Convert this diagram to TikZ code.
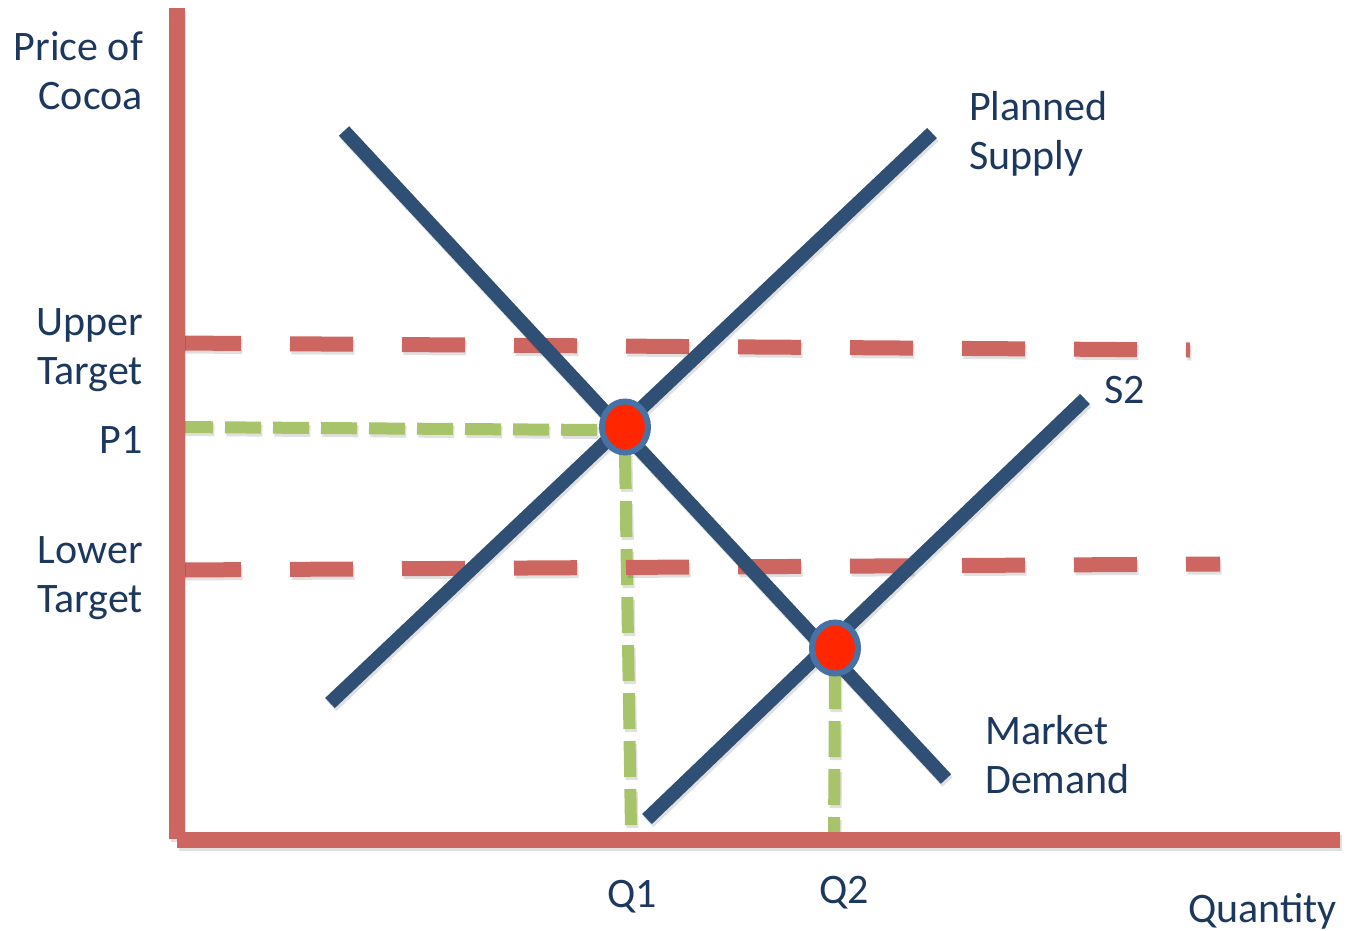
\documentclass[tikz,border=0pt]{standalone}
\usepackage{fontspec}
\setmainfont{Carlito}
\usetikzlibrary{shapes.geometric}
\definecolor{axisred}{RGB}{205,101,96}
\definecolor{navy}{RGB}{47,80,116}
\definecolor{txt}{RGB}{28,56,94}
\definecolor{lgreen}{RGB}{168,196,106}
\definecolor{dotred}{RGB}{255,38,0}
\definecolor{dotrim}{RGB}{70,114,165}
\begin{document}
\begin{tikzpicture}[x=1pt,y=-1pt,
  shadowof/.style={preaction={#1,draw=black,opacity=0.12,transform canvas={shift={(1.5pt,-3pt)}}}},
  axisgeom/.style={line width=15.5pt},
  curvegeom/.style={line width=14pt},
  targetgeom/.style={line width=15pt,dash pattern=on 63pt off 49pt},
  guidegeom/.style={line width=12pt,dash pattern=on 36pt off 12pt},
  axisline/.style={axisgeom,draw=axisred,shadowof=axisgeom},
  curve/.style={curvegeom,draw=navy,shadowof=curvegeom},
  target/.style={targetgeom,draw=axisred,shadowof=targetgeom},
  guide/.style={guidegeom,draw=lgreen,shadowof=guidegeom},
  eqdot/.style={ellipse,draw=dotrim,line width=6pt,fill=dotred,minimum width=46pt,minimum height=51pt,inner sep=0pt},
  lbl/.style={text=txt,inner sep=0pt,font=\fontsize{42}{49}\selectfont}]
\useasboundingbox (0,0) rectangle (1351,930);

% coordinates
\coordinate (ytop) at (177,8);
\coordinate (origin) at (177,840);
\coordinate (ybot) at (177,839);
\coordinate (xend) at (1340,840);
\coordinate (ut1) at (178,343);
\coordinate (ut2) at (1190,350);
\coordinate (lt1) at (178,570);
\coordinate (lt2) at (1220,564);
\coordinate (p1a) at (177,427);
\coordinate (p1b) at (600,430);
\coordinate (q1a) at (625,453);
\coordinate (q1b) at (631,830);
\coordinate (q2a) at (835,673);
\coordinate (q2b) at (834,838);
\coordinate (d1) at (344,131);
\coordinate (d2) at (946,779);
\coordinate (s1) at (330,703);
\coordinate (s2) at (932,133);
\coordinate (t1) at (647,819);
\coordinate (t2) at (1085,399);

% guide lines
\draw[guide] (p1a) -- (p1b);
\draw[guide] (q1a) -- (q1b);
\draw[guide] (q2a) -- (q2b);

% target lines
\draw[target] (ut1) -- (ut2);
\draw[target] (lt1) -- (lt2);

% curves
\draw[curve] (d1) -- (d2);
\draw[curve] (s1) -- (s2);
\draw[curve] (t1) -- (t2);

% equilibrium dots
\node[eqdot] (e1) at (625,427) {};
\node[eqdot] (e2) at (835,648) {};

% axes
\draw[axisline] (ytop) -- (ybot);
\draw[axisline] (origin) -- (xend);

% labels (base anchor = baseline of last line)
\node[lbl,anchor=base east,align=right] (price) at (143,109) {Price of\\Cocoa};
\node[lbl,anchor=base east,align=right] (upper) at (143,384) {Upper\\Target};
\node[lbl,anchor=base east] (p1) at (143,453) {P1};
\node[lbl,anchor=base east,align=right] (lower) at (143,612) {Lower\\Target};
\node[lbl,anchor=base west,align=left] (planned) at (969,169) {Planned\\Supply};
\node[lbl,anchor=base west] (s2lbl) at (1104,403) {S2};
\node[lbl,anchor=base west,align=left] (market) at (985,793) {Market\\Demand};
\node[lbl,anchor=base] (q1) at (632,907) {Q1};
\node[lbl,anchor=base] (q2) at (844,903) {Q2};
\node[lbl,anchor=base east] (qty) at (1337,922) {Quantity};
\end{tikzpicture}
\end{document}
